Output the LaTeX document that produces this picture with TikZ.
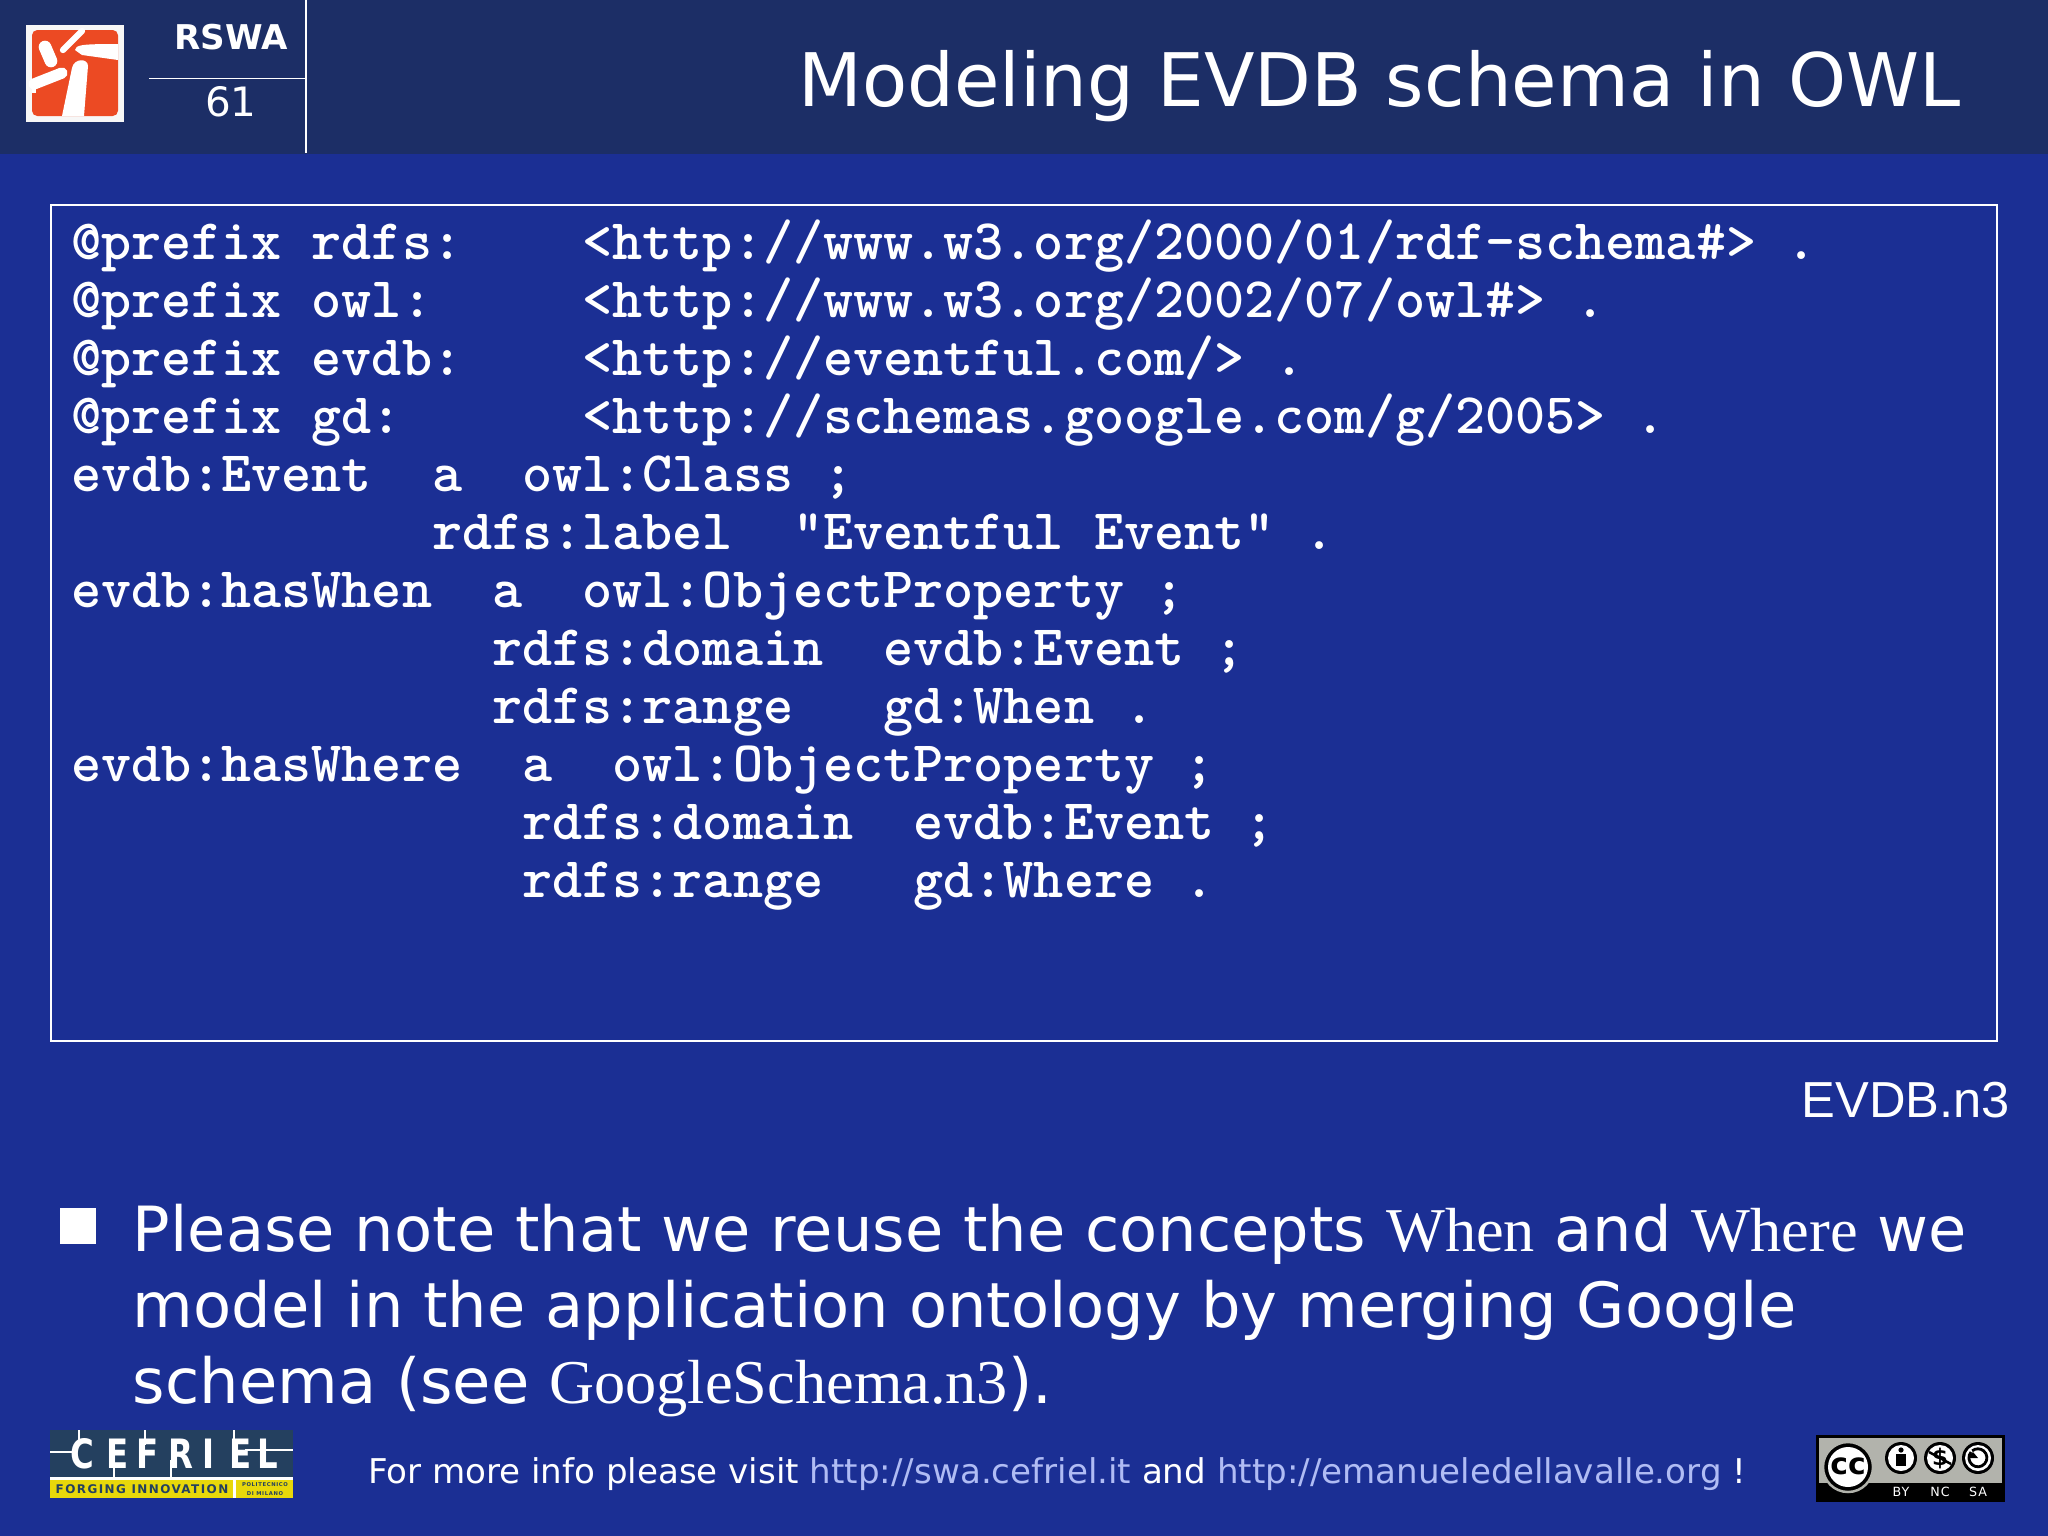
\documentclass[tikz,border=0pt]{standalone}
\usepackage{fontspec}
\setmainfont{DejaVu Sans}
\newfontfamily\arialfont{Liberation Sans}
\newfontfamily\timesfont{Liberation Serif}
\definecolor{bodyblue}{HTML}{1B2F94}
\definecolor{headblue}{HTML}{1C2E66}
\definecolor{linkblue}{HTML}{B0BCF4}
\definecolor{logored}{HTML}{EC4A23}
\definecolor{logoslate}{HTML}{24405F}
\definecolor{logoyellow}{HTML}{E8D80A}
\definecolor{badgegray}{HTML}{B2B3AC}

\begin{document}
\begin{tikzpicture}[x=0.01cm, y=-0.01cm]
    % Define the styles for each node
    \tikzstyle{plain} = [inner sep=0pt, outer sep=0pt, text=white]
    \tikzstyle{code} = [plain, anchor=north west, align=left, font=\fontsize{16.3}{16.48}\selectfont\ttfamily\bfseries\addfontfeatures{FakeBold=1.2}]
    \tikzstyle{bullet} = [plain, anchor=north west, align=left, font=\fontsize{17.72}{21.6}\selectfont]
    \tikzstyle{footer} = [plain, anchor=base west, font=\fontsize{9.7}{12}\selectfont]
    \tikzstyle{cefletter} = [plain, font=\fontsize{11.5}{12}\selectfont\bfseries\addfontfeatures{FakeStretch=0.8}]
    \tikzstyle{badgetext} = [plain, font=\fontsize{3.6}{4}\selectfont\addfontfeatures{LetterSpace=8}]
    \newcommand{\linkcol}[1]{\textcolor{linkblue}{#1}}

    % Background and header band
    \useasboundingbox (0,0) rectangle (2048,1536);
    \fill [bodyblue] (0,0) rectangle (2048,1536);
    \fill [headblue] (0,0) rectangle (2048,154);
    \draw [white, line width=0.5pt] (306,0) -- (306,153);
    \draw [white, line width=0.5pt] (149,78.5) -- (306,78.5);

    % Red logo
    \fill [white!97!black] (26,25) rectangle (124,122);
    \fill [logored, rounded corners=1.5pt] (32,30) rectangle (118,116);
    \draw [white, line width=3.6pt, line cap=round] (45,47) -- (51,61);
    \draw [white, line width=1.8pt, line cap=round] (63,50) -- (82,31);
    \draw [white, line width=3.2pt, line cap=round] (62,73) -- (34,84);
    \fill [white] (32,82) rectangle (36,93);
    \fill [white] (75,50) .. controls (76,45) and (80,44) .. (118,44) -- (118,60) -- (82,55) -- cycle;
    \fill [white] (62,116) -- (72,68) .. controls (74,58) and (88,58) .. (88,66) -- (84,116) -- cycle;

    % Header texts
    \node [plain, font=\fontsize{9.7}{12}\selectfont\bfseries] (course) at (231,37) {RSWA};
    \node [plain, font=\fontsize{11.5}{12}\selectfont] (pagenum) at (231,102) {61};
    \node [plain, anchor=base east, font=\fontsize{21}{24}\selectfont] (title) at (1961,106) {Modeling EVDB schema in OWL};

    % Code box
    \draw [white, line width=0.5pt] (51,205) rectangle (1997,1041);
    \node [code] (schema) at (71,220) {
        @prefix~rdfs:~~~~<http://www.w3.org/2000/01/rdf-schema\#>~.\\
        @prefix~owl:~~~~~<http://www.w3.org/2002/07/owl\#>~.\\
        @prefix~evdb:~~~~<http://eventful.com/>~.\\
        @prefix~gd:~~~~~~<http://schemas.google.com/g/2005>~.\\
        evdb:Event~~a~~owl:Class~;\\
        ~~~~~~~~~~~~rdfs:label~~"Eventful~Event"~.\\
        evdb:hasWhen~~a~~owl:ObjectProperty~;\\
        ~~~~~~~~~~~~~~rdfs:domain~~evdb:Event~;\\
        ~~~~~~~~~~~~~~rdfs:range~~~gd:When~.\\
        evdb:hasWhere~~a~~owl:ObjectProperty~;\\
        ~~~~~~~~~~~~~~~rdfs:domain~~evdb:Event~;\\
        ~~~~~~~~~~~~~~~rdfs:range~~~gd:Where~.
    };
    \node [plain, anchor=base east, font=\arialfont\fontsize{14.4}{16}\selectfont] (filename) at (2010,1117) {EVDB.n3};

    % Bullet text
    \fill [white] (60,1208) rectangle (96,1244);
    \node [bullet] (note) at (133,1204) {
        Please note that we reuse the concepts {\timesfont When} and {\timesfont Where} we\\
        model in the application ontology by merging Google\\
        schema (see {\timesfont GoogleSchema.n3}).
    };

    % Cefriel logo
    \fill [logoslate] (50,1430) rectangle (293,1477);
    \fill [white] (50,1477) rectangle (293,1480);
    \fill [logoyellow] (50,1480) rectangle (293,1498);
    \fill [white] (233,1477) rectangle (236,1498);
    \node [cefletter] (cefc) at (82,1454) {C};
    \node [cefletter] (cefe) at (118,1454) {E};
    \node [cefletter] (ceff) at (148,1454) {F};
    \node [cefletter] (cefr) at (181,1454) {R};
    \node [cefletter] (cefi) at (209,1454) {I};
    \node [cefletter] (cefee) at (241,1454) {E};
    \node [cefletter] (cefl) at (268,1454) {L};
    \draw [white, line width=0.3pt] (50,1452) -- (75,1452);
    \draw [white, line width=0.3pt] (245,1450) -- (293,1450);
    \draw [white, line width=0.3pt] (79,1430) -- (79,1445);
    \draw [white, line width=0.3pt] (114,1452) -- (114,1478);
    \draw [white, line width=0.3pt] (145,1430) -- (145,1445);
    \draw [white, line width=0.3pt] (171,1460) -- (171,1478);
    \draw [white, line width=0.3pt] (234,1430) -- (234,1445);
    \node [plain, text=logoslate, font=\fontsize{3.4}{4}\selectfont\bfseries\addfontfeatures{LetterSpace=12}] (forging) at (142,1489) {FORGING INNOVATION};
    \node [plain, text=logoslate, align=center, font=\fontsize{1.5}{2.4}\selectfont\bfseries\addfontfeatures{LetterSpace=12}] (polimi) at (265,1489) {POLITECNICO\\DI MILANO};

    % Footer
    \node [footer] (info) at (368,1483) {For more info please visit \linkcol{http://swa.cefriel.it} and \linkcol{http://emanueledellavalle.org} !};

    % Creative Commons badge
    \fill [black] (1816,1435) rectangle (2005,1502);
    \fill [badgegray] (1819,1438) rectangle (2002,1483);
    \fill [black, draw=badgegray, line width=0.7pt] (1848,1467) circle (25);
    \fill [white] (1848,1467) circle (20);
    \node [plain, text=black, font=\fontsize{8.5}{9}\selectfont\bfseries] (ccmark) at (1848,1466) {cc};
    \fill [black] (1901,1458) circle (16);
    \fill [white] (1901,1458) circle (13);
    \fill [black] (1901,1450) circle (2.6);
    \fill [black] (1896,1454) rectangle (1906,1466);
    \fill [black] (1940,1458) circle (16);
    \fill [white] (1940,1458) circle (13);
    \node [plain, text=black, font=\fontsize{6.5}{7}\selectfont\bfseries] (ncmark) at (1940,1458) {\$};
    \draw [black, line width=0.7pt] (1929,1452) -- (1951,1464);
    \fill [black] (1978,1458) circle (16);
    \fill [white] (1978,1458) circle (13);
    \draw [black, line width=0.8pt] (1971,1452) arc (220:-130:9);
    \fill [black] (1968,1458) -- (1978,1458) -- (1973,1452) -- cycle;
    \node [badgetext] (bymark) at (1901,1492) {BY};
    \node [badgetext] (ncname) at (1940,1492) {NC};
    \node [badgetext] (samark) at (1978,1492) {SA};
\end{tikzpicture}
\end{document}
